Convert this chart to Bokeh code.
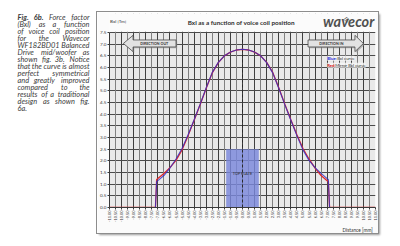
import math

from bokeh.core.properties import value
from bokeh.embed import file_html
from bokeh.layouts import row
from bokeh.models import (ColumnDataSource, FixedTicker, Grid, Label,
                          PrintfTickFormatter, Range1d, Title)
from bokeh.plotting import figure
from bokeh.resources import INLINE

# --- measured force factor Bxl [Tm] versus voice coil position [mm] ---
distance_mm = [-11.0, -7.2, -7.1, -7.0, -6.5, -6.0, -5.5, -5.0, -4.5, -4.0, -3.5,
               -3.0, -2.5, -2.0, -1.5, -1.0, -0.5, 0.0, 0.5, 1.0, 1.5, 2.0, 2.5,
               3.0, 3.5, 4.0, 4.5, 5.0, 5.5, 6.0, 6.5, 7.0, 7.1, 7.2, 11.0]
bxl_curve = [0.0, 0.0, 1.12, 1.15, 1.37, 1.69, 2.08, 2.53, 3.12, 3.76, 4.43,
             5.13, 5.79, 6.22, 6.50, 6.66, 6.75, 6.78, 6.75, 6.66, 6.50, 6.21, 5.77,
             5.11, 4.41, 3.74, 3.08, 2.47, 2.02, 1.71, 1.46, 1.24, 1.20, 0.0, 0.0]
# the same curve reflected about x = 0
mirror_curve = bxl_curve[::-1]

# top plate extent
plate_left = [-1.35]
plate_right = [1.35]
plate_bottom = [0.0]
plate_top = [2.5]

y_ticks = [0.0, 0.5, 1.0, 1.5, 2.0, 2.5, 3.0, 3.5, 4.0, 4.5, 5.0, 5.5, 6.0, 6.5, 7.0, 7.5]
x_ticks = [-11.0, -10.5, -10.0, -9.5, -9.0, -8.5, -8.0, -7.5, -7.0, -6.5, -6.0,
           -5.5, -5.0, -4.5, -4.0, -3.5, -3.0, -2.5, -2.0, -1.5, -1.0, -0.5, 0.0,
           0.5, 1.0, 1.5, 2.0, 2.5, 3.0, 3.5, 4.0, 4.5, 5.0, 5.5, 6.0, 6.5, 7.0,
           7.5, 8.0, 8.5, 9.0, 9.5, 10.0, 10.5, 11.0]
x_major_grid = [t for t in x_ticks if float(t).is_integer()]
x_minor_grid = [t for t in x_ticks if not float(t).is_integer()]

# caption, one entry per printed line; "*" marks bold words
caption_lines = [
    "*Fig. *6b. Force factor",
    "(Bxl) as a function",
    "of voice coil position",
    "for the Wavecor",
    "WF182BD01 Balanced",
    "Drive mid/woofer as",
    "shown fig. 3b. Notice",
    "that the curve is almost",
    "perfect symmetrical",
    "and greatly improved",
    "compared to the",
    "results of a traditional",
    "design as shown fig.",
    "6a.",
]

FONT = "Lato"
X_MIN, X_MAX = x_ticks[0], x_ticks[-1]
Y_MAX = y_ticks[-1]
# the frame reaches up to the top of the box so the heading sits inside it
Y_FRAME_TOP = Y_MAX * 194 / 175

# ---------- caption column (justified lines) ----------
CAP_LEFT, CAP_RIGHT = 17.0, 89.0
CAP_FIRST_BASELINE, CAP_LEADING, CAP_SIZE = 18.4, 7.85, 7.4
ADV = {'a': .51, 'b': .55, 'c': .46, 'd': .55, 'e': .52, 'f': .31, 'g': .50, 'h': .55,
       'i': .24, 'j': .24, 'k': .49, 'l': .24, 'm': .83, 'n': .55, 'o': .55, 'p': .55,
       'q': .55, 'r': .36, 's': .42, 't': .34, 'u': .55, 'v': .49, 'w': .75, 'x': .48,
       'y': .49, 'z': .44, 'A': .66, 'B': .62, 'C': .66, 'D': .74, 'F': .52, 'N': .76,
       'W': .98, '.': .20, '(': .29, ')': .29, '/': .34}


def word_width(word, bold):
    w = sum(ADV.get(ch, 0.58) for ch in word) * CAP_SIZE
    return w * 1.05 if bold else w


cap = {False: dict(x=[], y=[], t=[], a=[]), True: dict(x=[], y=[], t=[], a=[])}
for i, line in enumerate(caption_lines):
    words = [(w.lstrip("*"), w.startswith("*")) for w in line.split()]
    widths = [word_width(w, b) for w, b in words]
    base = CAP_FIRST_BASELINE + i * CAP_LEADING
    gap = 0 if len(words) < 2 else (CAP_RIGHT - CAP_LEFT - sum(widths)) / (len(words) - 1)
    pos = CAP_LEFT
    for j, ((w, b), wd) in enumerate(zip(words, widths)):
        if j == 0:
            x, a = CAP_LEFT, "left"
        elif j == len(words) - 1:
            x, a = CAP_RIGHT, "right"
        else:
            x, a = pos + wd / 2, "center"
        cap[b]["x"].append(x)
        cap[b]["y"].append(base)
        cap[b]["t"].append(w)
        cap[b]["a"].append(a)
        pos += wd + gap

cp = figure(width=97, height=246, x_range=Range1d(0, 97), y_range=Range1d(246, 0),
            x_axis_type=None, y_axis_type=None, output_backend="svg",
            toolbar_location=None, min_border=0, title=None)
cp.outline_line_color = None
cp.grid.visible = False
cp.background_fill_color = "white"
cp.border_fill_color = "white"
for bold, d in cap.items():
    cp.text(x="x", y="y", text="t", text_align="a", source=ColumnDataSource(d),
            text_baseline="alphabetic", text_font=value(FONT),
            text_font_size=f"{CAP_SIZE}px",
            text_font_style="bold italic" if bold else "italic", text_color="#3c3c3c")

# ---------- chart ----------
p = figure(width=281, height=221, x_range=Range1d(X_MIN, X_MAX),
           y_range=Range1d(0, Y_FRAME_TOP),
           output_backend="svg", toolbar_location=None,
           min_border_left=0, min_border_right=3, min_border_top=1, min_border_bottom=20)
p.margin = (12, 0, 0, 0)
p.styles = {"outline": "1px solid #8d8d8d", "box-shadow": "2px 2px 2px rgba(0,0,0,0.4)"}
p.background_fill_color = "#fbfbfb"
p.border_fill_color = "#fbfbfb"
p.outline_line_color = None

# grey plotting area behind the grid
p.quad(left=[X_MIN], right=[X_MAX], bottom=[0], top=[Y_MAX],
       fill_color="#e9e9e9", line_color=None, level="image")

# axes
p.yaxis.ticker = FixedTicker(ticks=y_ticks)
p.yaxis.formatter = PrintfTickFormatter(format="%.1f")
p.yaxis.bounds = (0, Y_MAX)
p.xaxis.ticker = FixedTicker(ticks=x_ticks)
p.xaxis.formatter = PrintfTickFormatter(format="%.2f")
p.xaxis.major_label_orientation = math.pi / 2
for ax in (p.xaxis, p.yaxis):
    ax.axis_line_color = "#3a3a3a"
    ax.major_tick_out = 2
    ax.major_tick_in = 0
    ax.minor_tick_out = 0
    ax.major_tick_line_color = "#3a3a3a"
    ax.major_label_text_font = FONT
    ax.major_label_text_color = "#3a3a3a"
    ax.major_label_standoff = 1
p.yaxis.major_label_text_font_size = "4.6px"
p.xaxis.major_label_text_font_size = "3.9px"

# axis caption below the tick labels
p.add_layout(Title(text="Distance [mm]", align="left", text_font=FONT,
                   text_font_size="4.8px", text_font_style="normal",
                   text_color="#333333", standoff=1, offset=233), "below")

# grid
p.ygrid.ticker = FixedTicker(ticks=y_ticks)
p.ygrid.grid_line_color = "#4a4a4a"
p.ygrid.grid_line_width = 1
p.xgrid.ticker = FixedTicker(ticks=x_major_grid)
p.xgrid.grid_line_color = "#404040"
p.xgrid.grid_line_width = 1
p.add_layout(Grid(dimension=0, ticker=FixedTicker(ticks=x_minor_grid),
                  grid_line_color="#808080", grid_line_width=1))

# heading strip above the plotting area (hides the grid there)
p.quad(left=[X_MIN - 1], right=[X_MAX + 1], bottom=[Y_MAX + 0.03], top=[Y_FRAME_TOP + 1],
       fill_color="#fbfbfb", line_color=None)

# top plate
p.quad(left=plate_left, right=plate_right, bottom=plate_bottom, top=plate_top,
       fill_color="#7a88dc", fill_alpha=0.82, line_color=None)
p.add_layout(Label(x=0, y=1.46, text="TOP PLATE", text_align="center",
                   text_baseline="middle", text_font=FONT,
                   text_font_size="3.8px", text_color="#2a2a2a"))

# centre line
p.segment(x0=[0], y0=[0], x1=[0], y1=[Y_MAX], line_color="#2a2a2a",
          line_width=1, line_dash="3 2")

# direction arrows (shape sizes in data units)
def arrow(tail, base, tip, yc, body, head):
    xs = [tail, base, base, tip, base, base, tail]
    ys = [yc + body, yc + body, yc + head, yc, yc - head, yc - body, yc - body]
    return xs, ys

for tail, base, tip, txt, tx in [(-5.5, -9.05, -9.85, "DIRECTION OUT", -7.3),
                                 (5.42, 9.3, 10.0, "DIRECTION IN", 7.35)]:
    xs, ys = arrow(tail, base, tip, 7.03, 0.15, 0.35)
    p.patch([x + 0.1 for x in xs], [y - 0.05 for y in ys], fill_color="#8a8a8a",
            fill_alpha=0.6, line_color=None)
    p.patch(xs, ys, fill_color="#e2e2e2", line_color="#4a4a4a", line_width=0.8)
    p.add_layout(Label(x=tx, y=7.03, text=txt, text_align="center",
                       text_baseline="middle", text_font=FONT,
                       text_font_size="3.6px", text_font_style="bold",
                       text_color="#333333"))

# curves
src = ColumnDataSource(dict(x=distance_mm, bxl=bxl_curve, mirror=mirror_curve))
p.line("x", "mirror", source=src, line_color="#e02a2a", line_width=1.3)
p.line("x", "bxl", source=src, line_color="#2a2ecc", line_width=1.1, line_alpha=0.8)

# legend text
for yy, key, key_col, rest, off in [(6.4, "Blue:", "#1f2bd6", "Bxl curve", 10),
                                    (6.1, "Red:", "#d42020", "Mirror Bxl curve", 8)]:
    p.add_layout(Label(x=7.0, y=yy, text=key, text_align="left", text_baseline="middle",
                       text_font=FONT, text_font_size="4.3px",
                       text_font_style="bold", text_color=key_col,
                       background_fill_color="#f6f6f6", background_fill_alpha=0.8))
    p.add_layout(Label(x=7.0, y=yy, x_offset=off, text=rest, text_align="left",
                       text_baseline="middle", text_font=FONT,
                       text_font_size="4.3px", text_color="#333333",
                       background_fill_color="#f6f6f6", background_fill_alpha=0.8))

# heading, unit caption and brand mark
p.add_layout(Label(x=-0.1, y=7.93, text="Bxl as a function of voice coil position",
                   text_align="center", text_baseline="middle", text_font=FONT,
                   text_font_size="6.4px", text_font_style="bold", text_color="#2e2e2e"))
p.add_layout(Label(x=X_MIN, y=8.0, x_offset=0.5, text="Bxl [Tm]", text_align="left",
                   text_baseline="middle", text_font=FONT,
                   text_font_size="4.6px", text_color="#333333"))
p.add_layout(Label(x=10.9, y=7.6, text="wavecor", text_align="right",
                   text_baseline="bottom", text_font=FONT,
                   text_font_size="14.5px", text_font_style="bold italic",
                   text_color="#505050"))
p.add_layout(Label(x=8.6, y=8.05, text=")))", text_align="center", angle=math.pi / 4,
                   text_baseline="middle", text_font=FONT,
                   text_font_size="5.5px", text_font_style="bold",
                   text_color="#505050"))

layout = row(cp, p)
open("out.html", "w").write(file_html(layout, INLINE))
